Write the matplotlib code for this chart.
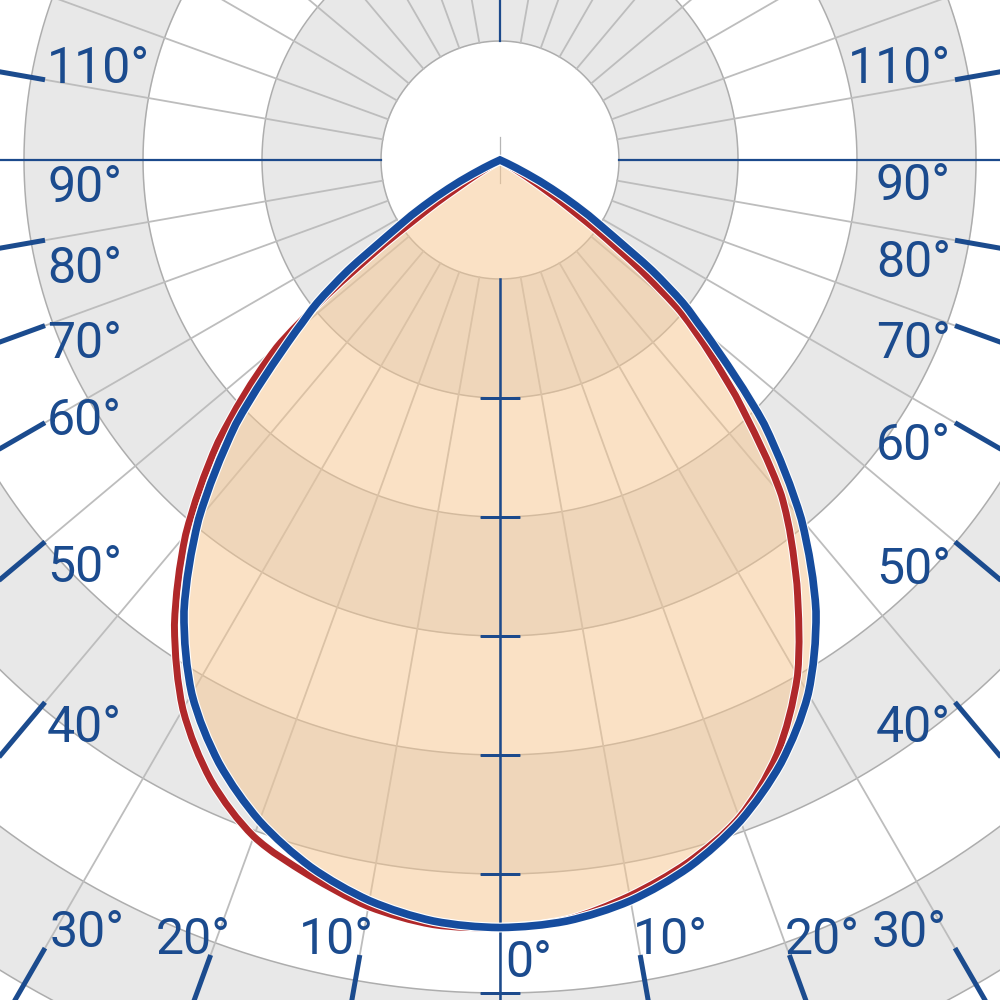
import numpy as np
import matplotlib
matplotlib.use('Agg')
import matplotlib.pyplot as plt
import matplotlib.patheffects as pe
from matplotlib.path import Path
from matplotlib.patches import PathPatch

# ---------------- data ----------------
# C0-C180 plane (blue, symmetric): gamma angle (deg) -> intensity
blue_gamma = [0, 5, 10, 15, 20, 25, 30, 35, 40, 45, 50, 52, 54, 56, 58, 60, 62, 64, 66]
blue_int = [645, 642, 632, 615, 591, 559, 518, 463, 394, 314, 224, 195, 158, 115, 88, 62, 38, 15, 0]

# C90 (right half) / C270 (left half) plane (red)
red_right_gamma = [0, 5, 10, 15, 20, 25, 30, 35, 40, 45, 50, 52, 54, 56, 58, 60]
red_right_int = [645, 641, 628, 611, 588, 551, 500, 435, 368, 280, 198, 150, 100, 58, 25, 0]
red_left_gamma = [0, 5, 10, 15, 20, 25, 30, 35, 40, 45, 50, 52, 54, 56, 58, 60]
red_left_int = [645, 645, 637, 622, 605, 575, 533, 477, 411, 335, 245, 185, 120, 65, 25, 0]

ring_values = [100, 200, 300, 400, 500, 600, 700, 800]
axis_tick_values = [200, 300, 400, 500, 600, 700, 800]
angle_tick_deg = [10, 20, 30, 40, 50, 60, 70, 80, 100]
label_angles = [100, 90, 80, 70, 60, 50, 40, 30, 20, 10, 0]
label_texts = ['110°', '90°', '80°', '70°', '60°', '50°', '40°', '30°', '20°', '10°', '0°']

# ---------------- styles / layout ----------------
W = H = 1000
CX, CY = 500, 160          # pole position in pixels (from top-left)
PX = 1.19                  # pixels per intensity unit
R_MAX = 850
INSET = 45

C_BAND = '#e8e8e8'
C_RING = '#adadad'
C_SPOKE = '#bdbdbd'
C_AXIS = '#1c4a8c'
C_LABEL = '#1b4b8e'
C_BLUE = '#164c9e'
C_RED = '#b0282a'
C_FILL = (247 / 255, 199 / 255, 145 / 255)

plt.rcParams['font.family'] = ['Roboto', 'DejaVu Sans']

fig = plt.figure(figsize=(10, 10), dpi=100)
fig.patch.set_facecolor('white')
rad_px = R_MAX * PX
ax = fig.add_axes([(CX - rad_px) / W, (H - CY - rad_px) / H, 2 * rad_px / W, 2 * rad_px / H],
                  projection='polar')
ax.set_theta_zero_location('S')
ax.set_theta_direction(1)
ax.set_ylim(0, R_MAX)
ax.set_xticks([])
ax.set_yticks([])
ax.grid(False)
ax.spines['polar'].set_visible(False)
ax.set_facecolor('white')

th = np.linspace(0, 2 * np.pi, 1441)
# alternating grey bands
for i, r0 in enumerate(ring_values[:-1]):
    if i % 2 == 0:
        ax.fill_between(th, r0, ring_values[i + 1], color=C_BAND, lw=0, zorder=1)
# ring circles
for r in ring_values:
    ax.plot(th, np.full_like(th, r), color=C_RING, lw=1.1, zorder=2)
# spokes every 10 degrees
for a in range(0, 360, 10):
    ax.plot([np.deg2rad(a)] * 2, [ring_values[0], R_MAX], color=C_SPOKE, lw=1.3, zorder=2)
# small mark at the pole
ax.plot([np.pi, np.pi], [0, 19], color='#b5b5b5', lw=0.9, zorder=2)
ax.plot([0, 0], [0, 19], color='#b5b5b5', lw=0.9, zorder=2)


def curve_path(theta_deg, r):
    """Smooth cubic (Hermite) path through the read points, r as a function of theta."""
    t = np.deg2rad(np.asarray(theta_deg, float))
    r = np.asarray(r, float)
    n = len(t)
    m = np.zeros(n)
    for i in range(n):
        if i == 0:
            m[i] = (r[1] - r[0]) / (t[1] - t[0])
        elif i == n - 1:
            m[i] = (r[-1] - r[-2]) / (t[-1] - t[-2])
        else:
            m[i] = (r[i + 1] - r[i - 1]) / (t[i + 1] - t[i - 1])
    verts = [(t[0], r[0])]
    codes = [Path.MOVETO]
    for i in range(n - 1):
        h = t[i + 1] - t[i]
        verts += [(t[i] + h / 3, r[i] + m[i] * h / 3),
                  (t[i + 1] - h / 3, r[i + 1] - m[i + 1] * h / 3),
                  (t[i + 1], r[i + 1])]
        codes += [Path.CURVE4] * 3
    verts.append((t[0], r[0]))
    codes.append(Path.CLOSEPOLY)
    return Path(np.array(verts), codes)


bg = np.array(blue_gamma, float)
b_theta = np.concatenate([-bg[::-1], bg[1:]])
b_r = np.concatenate([np.array(blue_int[::-1], float), np.array(blue_int[1:], float)])
r_theta = np.concatenate([-np.array(red_left_gamma[::-1], float), np.array(red_right_gamma[1:], float)])
r_r = np.concatenate([np.array(red_left_int[::-1], float), np.array(red_right_int[1:], float)])

blue_path = curve_path(b_theta, b_r)
red_path = curve_path(r_theta, r_r)

ax.add_patch(PathPatch(blue_path, facecolor=C_FILL, alpha=0.52, lw=0, zorder=3,
                       transform=ax.transData))

# axis lines
ax.plot([0, 0], [ring_values[0], R_MAX], color=C_AXIS, lw=1.8, zorder=4)
ax.plot(np.zeros(len(axis_tick_values)), axis_tick_values, ls='none', marker='_',
        ms=29.5, mew=1.8, color=C_AXIS, zorder=4)
for a in (np.pi / 2, -np.pi / 2, np.pi):
    ax.plot([a, a], [ring_values[0], R_MAX], color=C_AXIS, lw=1.6, zorder=4)


def ray_hit(a_deg):
    a = np.deg2rad(a_deg)
    dx, dy = np.sin(a), np.cos(a)
    ts = []
    if dx > 1e-9:
        ts.append((W - INSET - CX) / dx)
    if dx < -1e-9:
        ts.append((INSET - CX) / dx)
    if dy > 1e-9:
        ts.append((H - INSET - CY) / dy)
    if dy < -1e-9:
        ts.append((INSET - CY) / dy)
    t = min(ts)
    return t, CX + t * dx, CY + t * dy


# thick angle ticks at the border
for a in angle_tick_deg:
    for s in (-1, 1):
        t, _, _ = ray_hit(s * a)
        ax.plot([np.deg2rad(s * a)] * 2, [t / PX, R_MAX], color=C_LABEL, lw=3.6,
                solid_capstyle='butt', zorder=4)

# red then blue curves
ax.add_patch(PathPatch(red_path, facecolor='none', edgecolor=C_RED, lw=5.0,
                       joinstyle='miter', zorder=5, transform=ax.transData,
                       path_effects=[pe.Stroke(linewidth=6.5, foreground='white'), pe.Normal()]))
ax.add_patch(PathPatch(blue_path, facecolor='none', edgecolor=C_BLUE, lw=5.5,
                       joinstyle='miter', zorder=6, transform=ax.transData,
                       path_effects=[pe.Stroke(linewidth=7.1, foreground='white'), pe.Normal()]))

# angle labels: baseline offset (px) below the tick end, per side
side_dy = {-1: {100: 3, 90: 42, 80: 43, 70: 32, 60: 12, 50: 40, 40: 40},
           1: {100: 3, 90: 40, 80: 37, 70: 32, 60: 37, 50: 42, 40: 40}}
bottom_dx = {-1: {30: (5, 'left'), 20: (-17, 'center'), 10: (-23, 'center')},
             1: {30: (-8, 'right'), 20: (33, 'center'), 10: (30, 'center')}}
for ang, txt in zip(label_angles, label_texts):
    for s in ((-1, 1) if ang > 0 else (1,)):
        if ang == 0:
            x, y, ha = CX + 5, 977, 'left'
        elif ang == 90:
            x = INSET + 2 if s < 0 else W - INSET - 5
            y, ha = CY + side_dy[s][90], ('left' if s < 0 else 'right')
        else:
            t, tx, ty = ray_hit(s * ang)
            if ang >= 40:
                x = tx + 2 if s < 0 else tx - 4
                y = ty + side_dy[s][ang]
                ha = 'left' if s < 0 else 'right'
            else:
                ddx, ha = bottom_dx[s][ang]
                x, y = tx + ddx, ty - 1
        fig.text(x / W, 1 - y / H, txt, ha=ha, va='baseline', fontsize=36,
                 color=C_LABEL, zorder=10)

fig.savefig('out.png', dpi=100, facecolor='white')
